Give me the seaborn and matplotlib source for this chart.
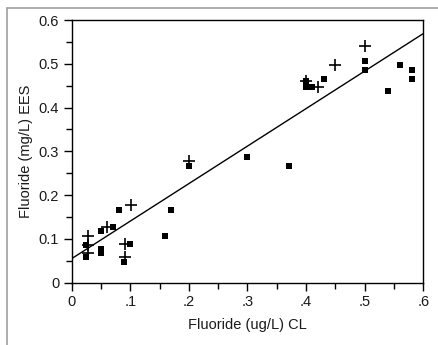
import matplotlib
matplotlib.use("Agg")
import matplotlib.pyplot as plt
from matplotlib.lines import Line2D
from matplotlib.ticker import MultipleLocator, FixedLocator
import seaborn as sns
import pandas as pd

# Measured fluoride: CL method (x) vs EES method (y)
sq_x = [0.025, 0.025, 0.05, 0.05, 0.05, 0.07, 0.08, 0.10, 0.09, 0.16, 0.17, 0.20,
        0.30, 0.37, 0.40, 0.40, 0.41, 0.43, 0.50, 0.50, 0.54, 0.56, 0.58, 0.58]
sq_y = [0.087, 0.058, 0.117, 0.078, 0.068, 0.127, 0.167, 0.088, 0.048, 0.107, 0.167, 0.267,
        0.287, 0.267, 0.46, 0.447, 0.447, 0.466, 0.506, 0.486, 0.437, 0.497, 0.486, 0.466]

plus_x = [0.027, 0.027, 0.027, 0.061, 0.101, 0.091, 0.091, 0.201, 0.40, 0.421, 0.45, 0.501]
plus_y = [0.107, 0.087, 0.068, 0.127, 0.177, 0.088, 0.058, 0.277, 0.46, 0.447, 0.497, 0.540]

# Fitted line endpoints
fit_x = [0.0, 0.6]
fit_y = [0.055, 0.569]

x_ticks = [0, 0.1, 0.2, 0.3, 0.4, 0.5, 0.6]
x_tick_labels = ["0", ".1", ".2", ".3", ".4", ".5", ".6"]
y_ticks = [0, 0.1, 0.2, 0.3, 0.4, 0.5, 0.6]
y_tick_labels = ["0", "0.1", "0.2", "0.3", "0.4", "0.5", "0.6"]

sns.set_style("ticks")
plt.rcParams["font.family"] = ["Liberation Sans", "DejaVu Sans"]

fig = plt.figure(figsize=(4.38, 3.45), dpi=100)
ax = fig.add_axes([0.1637, 0.1806, 0.8027, 0.7614])

sq_df = pd.DataFrame({"x": sq_x, "y": sq_y})
plus_df = pd.DataFrame({"x": plus_x, "y": plus_y})
fit_df = pd.DataFrame({"x": fit_x, "y": fit_y})

sns.lineplot(data=fit_df, x="x", y="y", ax=ax, color="black", linewidth=1.0)
sns.scatterplot(data=sq_df, x="x", y="y", ax=ax, marker="s", s=15, color="black",
                edgecolor="black", linewidth=0)
sns.scatterplot(data=plus_df, x="x", y="y", ax=ax, marker="+", s=80, color="black",
                linewidth=1.2)

ax.set_xlim(0, 0.6)
ax.set_ylim(0, 0.6)
ax.xaxis.set_major_locator(FixedLocator(x_ticks))
ax.set_xticklabels(x_tick_labels)
ax.yaxis.set_major_locator(FixedLocator(y_ticks))
ax.set_yticklabels(y_tick_labels)
ax.xaxis.set_minor_locator(MultipleLocator(0.05))
ax.yaxis.set_minor_locator(MultipleLocator(0.05))
ax.tick_params(which="major", direction="out", length=6, width=1, labelsize=10.5,
               color="black", labelcolor="#1a1a1a", pad=3)
ax.tick_params(which="minor", direction="out", length=4, width=1, color="black")

for sp in ax.spines.values():
    sp.set_visible(True)
    sp.set_color("black")
    sp.set_linewidth(1.0)

ax.set_xlabel("Fluoride (ug/L) CL", fontsize=10.5, color="#1a1a1a", labelpad=6)
ax.set_ylabel("Fluoride (mg/L) EES", fontsize=10.5, color="#1a1a1a", labelpad=4)

# Gray frame along top and left of the figure
fig.add_artist(Line2D([7 / 438, 1.0], [1 - 8 / 345, 1 - 8 / 345], transform=fig.transFigure,
                      color="#a0a0a0", linewidth=1.2))
fig.add_artist(Line2D([7 / 438, 7 / 438], [0.0, 1 - 8 / 345], transform=fig.transFigure,
                      color="#a0a0a0", linewidth=1.2))

fig.savefig("out.png", dpi=100, facecolor="white")
